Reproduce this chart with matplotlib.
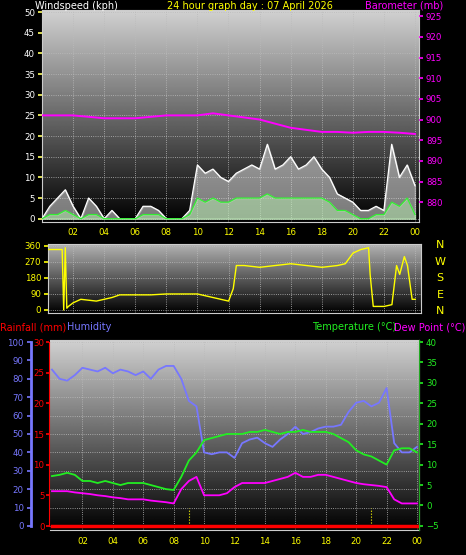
import numpy as np
import matplotlib

matplotlib.use("Agg")
import matplotlib.pyplot as plt

W, H = 466, 555

# half-hourly readings, 00:00 .. 24:00
HOURS = [i * 0.5 for i in range(49)]
GUST = [0, 3, 5, 7, 3, 0, 5, 3, 0, 2, 0, 0, 0, 3, 3, 2, 0, 0, 0, 2,
        13, 11, 12, 10, 9, 11, 12, 13, 12, 18, 12, 13, 15, 12, 13, 15, 12, 10,
        6, 5, 4, 2, 2, 3, 2, 18, 10, 13, 8]
AVG_WIND = [0, 1, 1, 2, 1, 0, 1, 1, 0, 0, 0, 0, 0, 1, 1, 1, 0, 0, 0, 1,
            5, 4, 5, 4, 4, 5, 5, 5, 5, 6, 5, 5, 5, 5, 5, 5, 5, 4,
            2, 2, 1, 0, 0, 1, 1, 4, 3, 5, 1]
BARO_H = [0, 2, 4, 6, 8, 10, 11, 12, 13, 14, 15, 16, 17, 18, 19, 20, 21, 22, 23, 24]
BARO = [901, 901, 900.3, 900.3, 901, 901, 901.5, 901, 900.5, 900, 899, 898,
        897.5, 897, 897, 896.8, 897, 897, 896.8, 896.5]

DIR_H = [0.4, 1.0, 1.3, 1.4, 1.5, 1.6, 1.7, 2.0, 2.5, 3.0, 3.5, 4.0, 4.5, 5.0, 6.0, 7.0, 8.0,
         9.0, 10.0, 10.5, 11.0, 11.5, 12.0, 12.3, 12.5, 13.0, 14.0, 15.0, 16.0, 17.0,
         18.0, 19.0, 19.5, 20.0, 20.5, 21.0, 21.1, 21.3, 22.0, 22.5, 22.8, 23.0, 23.3,
         23.5, 23.8, 24.0]
DIRECTION = [340, 340, 340, 0, 350, 10, 20, 40, 60, 55, 50, 60, 70, 85, 85, 85, 90,
             90, 90, 80, 70, 60, 50, 120, 250, 250, 240, 250, 260, 250,
             240, 250, 260, 320, 340, 350, 200, 20, 20, 30, 250, 200, 300,
             250, 60, 60]

HUMIDITY = [85, 80, 79, 82, 86, 85, 84, 86, 83, 85, 84, 82, 84, 80, 85, 87, 87, 80,
            68, 65, 40, 39, 40, 40, 37, 45, 47, 48, 45, 43, 47, 50, 54, 50, 51, 53,
            54, 54, 55, 62, 67, 68, 65, 67, 75, 45, 40, 40, 43]
TEMP = [7.2, 7.5, 8, 7.5, 6, 6, 5.5, 6, 5.5, 5, 5.5, 5.5, 5.5, 5, 4.5, 4, 3.8, 7,
        11, 13, 16, 16.5, 17, 17.5, 17.5, 17.5, 18, 18, 18.5, 18, 17.5, 18, 18,
        18.5, 18, 18, 18, 17.5, 16.5, 15.5, 13.5, 12.5, 12, 11, 10, 13.5, 14, 14, 13]
DEWPOINT = [3.5, 3.5, 3.5, 3.2, 3, 2.8, 2.5, 2.3, 2, 1.8, 1.5, 1.5, 1.5, 1.2, 1, 0.8,
            0.5, 4, 6, 7, 2.5, 2.5, 2.5, 3, 4.5, 5.5, 5.5, 5.5, 5.5, 6, 6.5, 7, 8, 7,
            7, 7.5, 7.5, 7, 6.5, 6, 5.5, 5.2, 5, 4.8, 4.5, 1.5, 0.5, 0.5, 0.5]
RAIN = [0] * 49

XTICKS = list(range(2, 25, 2))
XLABELS = [f"{h % 24:02d}" for h in XTICKS]

FS = 6.2
HFS = 7


def rect(x0, y0, x1, y1):
    return [x0 / W, 1 - y1 / H, (x1 - x0) / W, (y1 - y0) / H]


def backdrop(ax, top=0.82):
    grad = np.linspace(0.0, top, 256).reshape(-1, 1)
    ax.imshow(grad, cmap="gray", vmin=0, vmax=1, aspect="auto", origin="lower",
              extent=(0, 1, 0, 1), transform=ax.transAxes, zorder=0)
    for s in ax.spines.values():
        s.set_color("#cccccc")
    ax.grid(True, color="#bbbbbb", linestyle=":", linewidth=0.6, zorder=1)


def yaxis_style(ax, color, length=3, pad=2):
    ax.tick_params(axis="y", colors=color, labelsize=FS, length=length, width=1.2,
                   pad=pad, labelcolor=color)


fig = plt.figure(figsize=(W / 100, H / 100), dpi=100, facecolor="black")

# ---- wind / barometer
ax1 = fig.add_axes(rect(42, 10, 419, 222))
backdrop(ax1)
ax1.fill_between(HOURS, 0, GUST, color="#dddddd", alpha=0.55, zorder=2)
ax1.plot(HOURS, GUST, color="white", lw=0.9, zorder=3)
ax1.fill_between(HOURS, 0, AVG_WIND, color="#b8f0b0", alpha=0.5, zorder=3)
ax1.plot(HOURS, AVG_WIND, color="#33ee33", lw=0.9, zorder=4)
ax1.set_xlim(0, 24.26)
ax1.set_ylim(-0.8, 50.5)
ax1.set_yticks(range(0, 51, 5))
ax1.set_xticks(XTICKS, XLABELS)
ax1.tick_params(axis="x", colors="yellow", labelsize=FS, length=0, pad=4)
yaxis_style(ax1, "white")
ax1.tick_params(axis="y", colors="#ffff66", labelcolor="white")
ax1b = ax1.twinx()
ax1b.set_ylim(876 - 0.8, 926.5)
ax1b.plot(BARO_H, BARO, color="#ff00ff", lw=1.4, zorder=5)
ax1b.set_yticks(range(880, 926, 5))
ax1b.tick_params(axis="y", colors="#ff00ff", labelsize=FS, length=3, width=1.2, pad=2)
for s in ax1b.spines.values():
    s.set_visible(False)
fig.text(35 / W, 1 - 6 / H, "Windspeed (kph)", color="white", fontsize=HFS, va="center")
fig.text(250 / W, 1 - 6 / H, "24 hour graph day : 07 April 2026", color="yellow",
         fontsize=HFS, va="center", ha="center")
fig.text(443 / W, 1 - 6 / H, "Barometer (mb)", color="#ff00ff", fontsize=HFS,
         va="center", ha="right")

# ---- wind direction
ax2 = fig.add_axes(rect(48, 244, 421, 313))
backdrop(ax2, top=0.7)
ax2.plot(DIR_H, DIRECTION, color="yellow", lw=1.0, zorder=3)
ax2.set_xlim(0.39, 24.37)
ax2.set_ylim(-17, 371)
ax2.set_yticks([0, 90, 180, 270, 360])
ax2.set_xticks(XTICKS)
ax2.tick_params(axis="x", length=0, labelbottom=False)
yaxis_style(ax2, "yellow")
for lab, y in zip(["N", "W", "S", "E", "N"], [245, 262, 278, 295, 311]):
    fig.text(440 / W, 1 - y / H, lab, color="yellow", fontsize=8, ha="center", va="center")

# ---- humidity / rain / temperature
ax3 = fig.add_axes(rect(50, 340, 419, 530))
backdrop(ax3)
ax3.set_xlim(-0.13, 24.13)
ax3.set_xticks(XTICKS, XLABELS)
ax3.tick_params(axis="x", colors="yellow", labelsize=FS, length=0, pad=5)
ax3.set_ylim(-2.2, 101.1)
ax3.plot(HOURS, HUMIDITY, color="#7777ff", lw=1.3, zorder=3)
ax3.set_yticks(range(0, 101, 10))
ax3.spines["left"].set_position(("outward", 14))
ax3.spines["left"].set_color("#7777ff")
ax3.spines["left"].set_linewidth(2)
ax3.spines["left"].set_bounds(0, 100)
yaxis_style(ax3, "#7777ff")

axr = ax3.twinx()
axr.set_ylim(-0.65, 30.33)
axr.plot(HOURS, RAIN, color="red", lw=2.5, zorder=4)
axr.yaxis.set_label_position("left")
axr.yaxis.tick_left()
axr.spines["left"].set_visible(True)
axr.spines["left"].set_position(("outward", 1))
axr.spines["left"].set_color("red")
axr.spines["left"].set_bounds(0, 30)
for k in ("right", "top", "bottom"):
    axr.spines[k].set_visible(False)
axr.set_yticks(range(0, 31, 5))
yaxis_style(axr, "red", length=2, pad=1)

axt = ax3.twinx()
axt.set_ylim(-6, 40.5)
axt.plot(HOURS, TEMP, color="#22ee22", lw=1.3, zorder=5)
axt.plot(HOURS, DEWPOINT, color="#ff00ff", lw=1.3, zorder=5)
axt.set_yticks(range(-5, 41, 5))
for k in ("left", "top", "bottom"):
    axt.spines[k].set_visible(False)
axt.spines["right"].set_color("#22aa22")
axt.tick_params(axis="y", colors="#22ee22", labelsize=FS, length=3, width=1.2, pad=2)
for h in (9, 21):
    ax3.plot([h, h], [0, 10], color="yellow", lw=0.8, ls=":", zorder=4)

fig.text(0, 1 - 327 / H, "Rainfall (mm)", color="red", fontsize=HFS, va="center")
fig.text(67 / W, 1 - 327 / H, "Humidity", color="#7777ff", fontsize=HFS, va="center")
fig.text(312 / W, 1 - 327 / H, "Temperature (°C)", color="#22ee22", fontsize=HFS, va="center")
fig.text(465 / W, 1 - 327 / H, "Dew Point (°C)", color="#ff00ff", fontsize=HFS,
         va="center", ha="right")

fig.savefig("out.png", dpi=100, facecolor="black")
